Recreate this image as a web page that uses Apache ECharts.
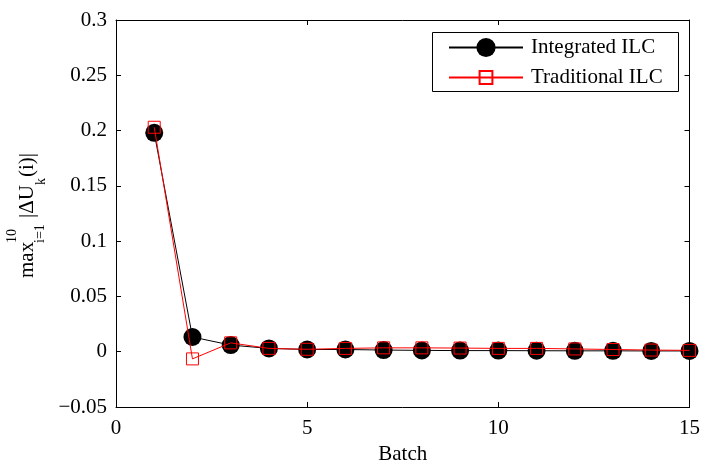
<!DOCTYPE html>
<html>
<head>
<meta charset="utf-8">
<script src="https://cdn.jsdelivr.net/npm/echarts@6/dist/echarts.min.js"></script>
<style>
html,body{margin:0;padding:0;background:#fff;}
#chart{width:703px;height:470px;}
</style>
</head>
<body>
<div id="chart"></div>
<script>
// ---- data ----
const batches = [1,2,3,4,5,6,7,8,9,10,11,12,13,14,15];
const integratedILC = [0.198, 0.0133, 0.006, 0.003, 0.002, 0.002, 0.0015, 0.0012, 0.001, 0.001, 0.0009, 0.0008, 0.0008, 0.0007, 0.0007];
const traditionalILC = [0.203, -0.0065, 0.008, 0.003, 0.0022, 0.003, 0.0035, 0.0035, 0.0033, 0.003, 0.003, 0.0025, 0.002, 0.0015, 0.0012];
const seriesNames = ['Integrated ILC', 'Traditional ILC'];
const xTicks = [0, 5, 10, 15];
const yTickLabels = ['\u22120.05', '0', '0.05', '0.1', '0.15', '0.2', '0.25', '0.3'];
const yTickValues = [-0.05, 0, 0.05, 0.1, 0.15, 0.2, 0.25, 0.3];
const xName = 'Batch';

const FONT = "'Liberation Serif', 'Times New Roman', serif";
const chart = echarts.init(document.getElementById('chart'), null, {renderer: 'canvas'});

function yFmt(v) {
  for (let i = 0; i < yTickValues.length; i++) {
    if (Math.abs(yTickValues[i] - v) < 1e-9) return yTickLabels[i];
  }
  return '';
}

const axisCommon = {
  axisLine: {show: true, onZero: false, lineStyle: {color: '#000', width: 1}},
  axisTick: {show: true, inside: true, length: 5, lineStyle: {color: '#000', width: 1}},
  splitLine: {show: false}
};

const option = {
  animation: false,
  backgroundColor: '#fff',
  grid: {left: 116, right: 11, top: 20, bottom: 56, containLabel: false},
  xAxis: [
    Object.assign({
      type: 'value', position: 'bottom', min: xTicks[0], max: xTicks[xTicks.length-1], interval: 5,
      axisLabel: {color: '#000', fontFamily: FONT, fontSize: 21, margin: 11},
      name: xName, nameLocation: 'middle', nameGap: 37,
      nameTextStyle: {color: '#000', fontFamily: FONT, fontSize: 21}
    }, axisCommon),
    Object.assign({
      type: 'value', position: 'top', min: xTicks[0], max: xTicks[xTicks.length-1], interval: 5,
      axisLabel: {show: false}
    }, axisCommon)
  ],
  yAxis: [
    Object.assign({
      type: 'value', position: 'left', min: -0.05, max: 0.3, interval: 0.05,
      axisLabel: {color: '#000', fontFamily: FONT, fontSize: 21, margin: 9, formatter: yFmt}
    }, axisCommon),
    Object.assign({
      type: 'value', position: 'right', min: -0.05, max: 0.3, interval: 0.05,
      axisLabel: {show: false}
    }, axisCommon)
  ],
  legend: [
    {
      data: [seriesNames[0]], orient: 'vertical', left: 448, top: 37, padding: 0,
      itemWidth: 74, itemHeight: 24,
      textStyle: {color: '#000', fontFamily: FONT, fontSize: 21, padding: [0,0,0,3]},
      selectedMode: false
    },
    {
      data: [seriesNames[1]], orient: 'vertical', left: 448, top: 67, padding: 0,
      itemWidth: 74, itemHeight: 16,
      textStyle: {color: '#000', fontFamily: FONT, fontSize: 21, padding: [0,0,0,3]},
      selectedMode: false
    }
  ],
  graphic: [
    {
      type: 'rect', z: 3,
      shape: {x: 432.5, y: 32.5, width: 246, height: 59},
      style: {fill: '#fff', stroke: '#000', lineWidth: 1}
    },
    {
      type: 'group', x: 0, y: 278, rotation: Math.PI / 2,
      children: [
        {type: 'text', x: 0, y: 27, style: {text: 'max', font: "21px " + FONT, fill: '#000', verticalAlign: 'middle', align: 'left'}},
        {type: 'text', x: 35, y: 12, style: {text: '10', font: "14px " + FONT, fill: '#000', verticalAlign: 'middle', align: 'left'}},
        {type: 'text', x: 35, y: 40, style: {text: 'i=1', font: "14px " + FONT, fill: '#000', verticalAlign: 'middle', align: 'left'}},
        {type: 'text', x: 60, y: 27, style: {text: '|\u0394U', font: "21px " + FONT, fill: '#000', verticalAlign: 'middle', align: 'left'}},
        {type: 'text', x: 93, y: 41, style: {text: 'k', font: "14px " + FONT, fill: '#000', verticalAlign: 'middle', align: 'left'}},
        {type: 'text', x: 101, y: 27, style: {text: '(i)|', font: "21px " + FONT, fill: '#000', verticalAlign: 'middle', align: 'left'}}
      ]
    }
  ],
  series: [
    {
      name: seriesNames[0], type: 'line', xAxisIndex: 0, yAxisIndex: 0,
      data: batches.map((b, i) => [b, integratedILC[i]]),
      symbol: 'circle', symbolSize: 18, showAllSymbol: true,
      itemStyle: {color: '#000'},
      lineStyle: {color: '#000', width: 1},
      emphasis: {disabled: true}, z: 2
    },
    {
      name: seriesNames[1], type: 'line', xAxisIndex: 0, yAxisIndex: 0,
      data: batches.map((b, i) => [b, traditionalILC[i]]),
      symbol: 'rect', symbolSize: 12, showAllSymbol: true,
      itemStyle: {color: 'rgba(0,0,0,0)', borderColor: '#ff0000', borderWidth: 1},
      lineStyle: {color: '#ff0000', width: 1},
      emphasis: {disabled: true}, z: 3
    }
  ]
};
chart.setOption(option);
</script>
</body>
</html>
